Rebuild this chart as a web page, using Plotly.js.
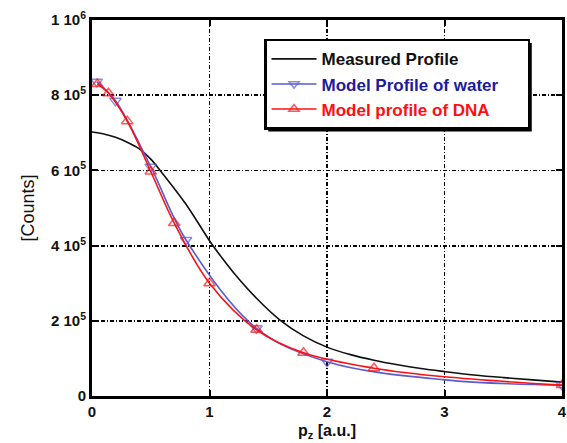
<!DOCTYPE html>
<html>
<head>
<meta charset="utf-8">
<script src="https://cdn.plot.ly/plotly-3.0.1.min.js"></script>
<style>html,body{margin:0;padding:0;background:#fff}#chart{width:567px;height:443px}</style>
</head>
<body>
<div id="chart"></div>
<script>
// Measured profile
var measX = [0, 0.1, 0.2, 0.3, 0.4, 0.5, 0.6, 0.7, 0.8, 0.9, 1.0, 1.1, 1.2, 1.4, 1.6, 1.8, 2.0, 2.2, 2.4, 2.6, 2.8, 3.0, 3.25, 3.5, 3.75, 4.0];
var measY = [702000, 697000, 688000, 675000, 658000, 630000, 592000, 552000, 510000, 462000, 413000, 370000, 330000, 260000, 202000, 160000, 130000, 110000, 95000, 83000, 73000, 65000, 56000, 49000, 43000, 37000];
// Model profile of water
var waterX = [0.04, 0.2, 0.5, 0.8, 1.4, 2.0, 3.0, 4.0];
var waterY = [836000, 785000, 610000, 415000, 180000, 91000, 43000, 29000];
var waterMark = [1, 1, 1, 1, 1, 1, 0, 1];
// Model profile of DNA
var dnaX = [0.045, 0.14, 0.3, 0.5, 0.7, 1.0, 1.4, 1.8, 2.4, 3.0, 4.0];
var dnaY = [830000, 805000, 731000, 597000, 460000, 300000, 176000, 115000, 74000, 51000, 29000];
var dnaMark = [1, 1, 1, 1, 1, 1, 1, 1, 1, 0, 1];
// Tick labels
var yTickVals = [0, 200000, 400000, 600000, 800000, 1000000];
var yTickText = ['0', '2 10<sup>5</sup>', '4 10<sup>5</sup>', '6 10<sup>5</sup>', '8 10<sup>5</sup>', '1 10<sup>6</sup>'];
var xTickVals = [0, 1, 2, 3, 4];
var xTickText = ['0', '1', '2', '3', '4'];

var blueLine = '#5a5ad2';
var blueText = '#1c1c9c';
var redCol = '#ff1010';
var FONT = 'Arial, Liberation Sans, sans-serif';

var traces = [
  {x: measX, y: measY, name: 'Measured Profile', mode: 'lines', line: {color: '#111', width: 1.6, shape: 'spline'}, type: 'scatter'},
  {x: waterX, y: waterY, name: '<span style="color:' + blueText + '">Model Profile of water</span>&nbsp;&nbsp;&nbsp;&nbsp;&nbsp;', mode: 'lines+markers', type: 'scatter',
   line: {color: blueLine, width: 1.6, shape: 'spline'},
   marker: {symbol: 'triangle-down-open', size: waterMark.map(function(m){return m ? 10 : 0;}), color: blueLine, line: {width: 1.5, color: blueLine}}},
  {x: dnaX, y: dnaY, name: '<span style="color:' + redCol + '">Model profile of DNA</span>', mode: 'lines+markers', type: 'scatter',
   line: {color: redCol, width: 1.6, shape: 'spline'},
   marker: {symbol: 'triangle-up-open', size: dnaMark.map(function(m){return m ? 10 : 0;}), color: redCol, line: {width: 1.5, color: redCol}}}
];

var axisCommon = {
  showline: true, linecolor: '#000', linewidth: 3, mirror: 'allticks',
  ticks: 'inside', ticklen: 6, tickwidth: 2, tickcolor: '#000',
  showgrid: true, gridcolor: '#000', gridwidth: 1.8, griddash: '4px,2px,1px,2px',
  zeroline: false, tickfont: {family: FONT, size: 15, color: '#111', weight: 'bold'}
};

var layout = {
  width: 567, height: 443,
  margin: {l: 92, r: 5, t: 20, b: 47},
  paper_bgcolor: '#fff', plot_bgcolor: '#fff',
  showlegend: true,
  xaxis: Object.assign({}, axisCommon, {range: [0, 4], tickvals: xTickVals, ticktext: xTickText,
    title: {text: 'p<sub>z</sub> [a.u.]', font: {family: FONT, size: 16, color: '#111', weight: 'bold'}, standoff: 6}}),
  yaxis: Object.assign({}, axisCommon, {range: [0, 1000000], tickvals: yTickVals, ticktext: yTickText,
    title: {text: '[Counts]', font: {family: FONT, size: 18, color: '#111'}, standoff: 12}}),
  legend: {x: 0.366, y: 0.95, xanchor: 'left', yanchor: 'top', bgcolor: '#fff', bordercolor: '#000', borderwidth: 2.5,
    font: {family: FONT, size: 17, color: '#111', weight: 'bold'}, tracegroupgap: 0, itemwidth: 45}
};

Plotly.newPlot('chart', traces, layout, {displayModeBar: false, staticPlot: true}).then(function(gd){
  // drop shadow behind the legend box (right and bottom), in paper coordinates
  var bg = gd.querySelector('.legend .bg');
  if (!bg) return;
  var r = bg.getBoundingClientRect();
  var c = gd.getBoundingClientRect();
  var fs = gd._fullLayout._size;
  function px2x(p){ return (p - c.left - fs.l) / fs.w; }
  function px2y(p){ return 1 - (p - c.top - fs.t) / fs.h; }
  var off = 3;
  Plotly.relayout(gd, {shapes: [{type: 'rect', xref: 'paper', yref: 'paper', layer: 'above',
    x0: px2x(r.left + off), x1: px2x(r.right + off), y0: px2y(r.bottom + off), y1: px2y(r.top + off),
    fillcolor: '#000', line: {width: 0}}]});
});
</script>
</body>
</html>
